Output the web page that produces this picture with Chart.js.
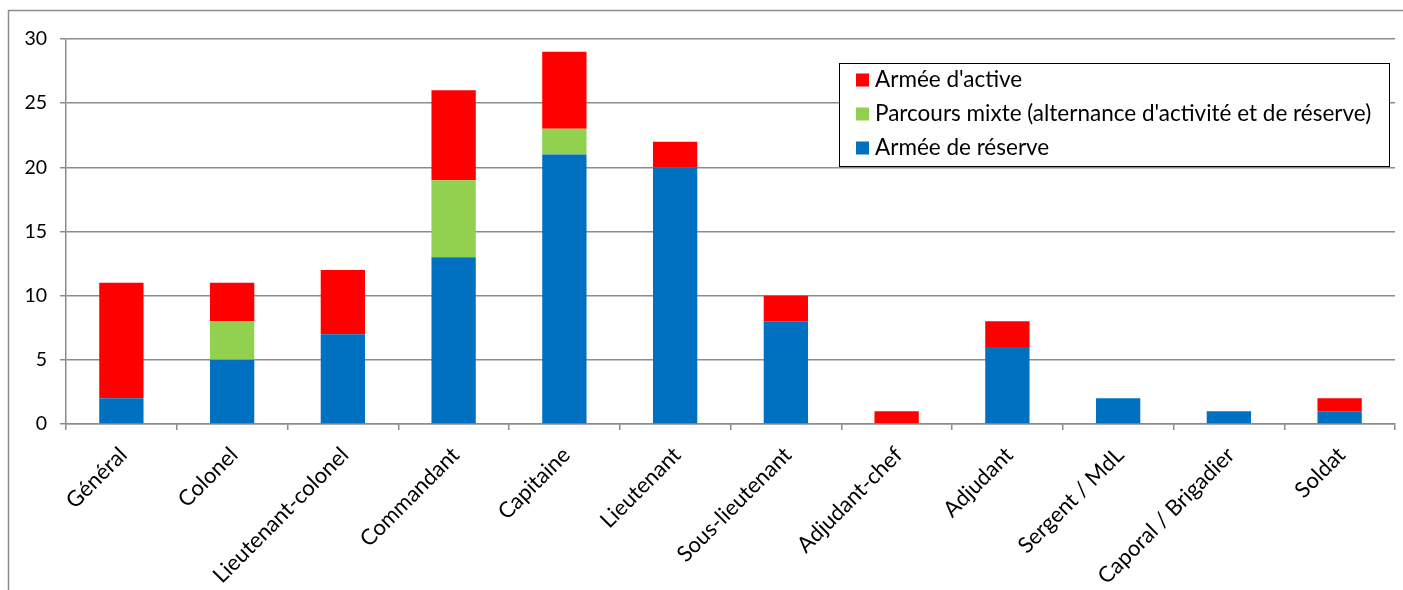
<!DOCTYPE html>
<html>
<head>
<meta charset="utf-8">
<script src="https://cdn.jsdelivr.net/npm/chart.js@4"></script>
<style>
  html, body { margin: 0; padding: 0; background: #ffffff; }
  #wrap { width: 1403px; height: 590px; position: relative; }
</style>
</head>
<body>
<div id="wrap"><canvas id="c"></canvas></div>
<script>
const categories = ["Général", "Colonel", "Lieutenant-colonel", "Commandant", "Capitaine", "Lieutenant", "Sous-lieutenant", "Adjudant-chef", "Adjudant", "Sergent / MdL", "Caporal / Brigadier", "Soldat"];
const reserveValues = [2, 5, 7, 13, 21, 20, 8, 0, 6, 2, 1, 1];
const mixteValues   = [0, 3, 0, 6, 2, 0, 0, 0, 0, 0, 0, 0];
const activeValues  = [9, 3, 5, 7, 6, 2, 2, 1, 2, 0, 0, 1];
const yTicks = [0, 5, 10, 15, 20, 25, 30];

const FONT = "Lato, 'Open Sans', sans-serif";

const framePlugin = {
  id: 'frame',
  beforeDraw(chart) {
    const ctx = chart.ctx;
    ctx.save();
    ctx.fillStyle = '#ffffff';
    ctx.fillRect(0, 0, chart.width, chart.height);
    ctx.strokeStyle = '#8c8c8c';
    ctx.lineWidth = 1.5;
    ctx.strokeRect(8.5, 10.5, chart.width + 20, chart.height + 20);
    ctx.restore();
  }
};

const boxLegend = {
  id: 'boxLegend',
  afterDraw(chart) {
    const ctx = chart.ctx;
    const x0 = 839, y0 = 63, w = 550, h = 103;
    ctx.save();
    ctx.fillStyle = '#ffffff';
    ctx.fillRect(x0, y0, w, h);
    ctx.strokeStyle = '#000000';
    ctx.lineWidth = 1;
    ctx.strokeRect(x0 + 0.5, y0 + 0.5, w, h);
    const ds = chart.data.datasets.slice().reverse();
    ctx.font = "22.5px " + FONT;
    ctx.textBaseline = 'middle';
    ds.forEach((d, i) => {
      const cy = y0 + 17 + i * 34;
      ctx.fillStyle = d.backgroundColor;
      ctx.fillRect(x0 + 17, cy - 6.5, 13, 13);
      ctx.fillStyle = '#000000';
      ctx.fillText(d.label, x0 + 36, cy);
    });
    ctx.restore();
  }
};

new Chart(document.getElementById('c'), {
  type: 'bar',
  data: {
    labels: categories,
    datasets: [
      { label: "Armée de réserve", data: reserveValues, backgroundColor: '#0070C0' },
      { label: "Parcours mixte (alternance d'activité et de réserve)", data: mixteValues, backgroundColor: '#92D050' },
      { label: "Armée d'active", data: activeValues, backgroundColor: '#FF0000' }
    ]
  },
  plugins: [framePlugin, boxLegend],
  options: {
    responsive: true,
    maintainAspectRatio: false,
    animation: false,
    devicePixelRatio: 1,
    layout: { padding: { left: 10, top: 39, right: 8, bottom: 0 } },
    datasets: { bar: { categoryPercentage: 1, barPercentage: 0.4 } },
    plugins: { legend: { display: false }, tooltip: { enabled: false }, title: { display: false } },
    scales: {
      x: {
        stacked: true,
        offset: true,
        grid: { display: true, drawOnChartArea: false, drawTicks: true, tickLength: 6, color: '#8c8c8c', lineWidth: 1.5, offset: true },
        border: { display: true, color: '#8c8c8c', width: 1.5 },
        ticks: { color: '#000000', font: { family: FONT, size: 22 }, maxRotation: 45, minRotation: 45, autoSkip: false, padding: 12, labelOffset: 2 },
        afterFit(scale) { scale.height = 166; }
      },
      y: {
        stacked: true,
        min: 0, max: 30,
        afterBuildTicks(scale) { scale.ticks = yTicks.map(v => ({ value: v })); },
        grid: { color: '#8c8c8c', lineWidth: 1.5, drawTicks: true, tickLength: 6 },
        border: { display: true, color: '#8c8c8c', width: 1.5 },
        ticks: { color: '#000000', font: { family: FONT, size: 19.5 }, padding: 13 },
        afterFit(scale) { scale.width = 56; }
      }
    }
  }
});
</script>
</body>
</html>
